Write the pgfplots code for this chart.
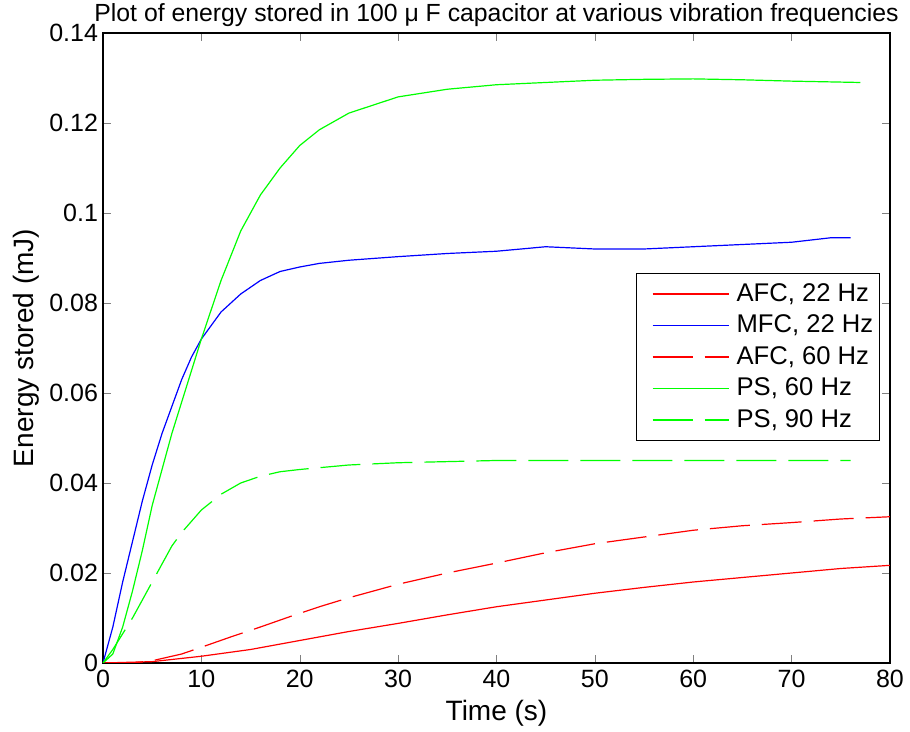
\documentclass[border=0pt]{standalone}
\usepackage{fontspec}
\setmainfont{Liberation Sans}
\usepackage{pgfplots}
\pgfplotsset{compat=1.18}
\begin{document}
\begin{tikzpicture}
\def\fs{\fontsize{12.5}{14}\selectfont}
\def\fl{\fontsize{14}{16}\selectfont}
\begin{axis}[
  scale only axis, width=393.5pt, height=315pt,
  xmin=0, xmax=80, ymin=0, ymax=0.14,
  xtick={0,10,...,80}, ytick={0,0.02,0.04,0.06,0.08,0.1,0.12,0.14},
  scaled y ticks=false,
  yticklabel style={/pgf/number format/fixed, /pgf/number format/precision=2, xshift=1pt},
  /pgf/number format/assume math mode=true,
  tick label style={font=\fs},
  tick align=inside, xtick pos=both, ytick pos=both, major tick length=4pt,
  axis line style={black, line width=0.6pt},
  title={Plot of energy stored in 100 μ F capacitor at various vibration frequencies},
  every axis title/.style={font=\fontsize{12.4}{14}\selectfont, at={(0.5,1.019)}, anchor=base},
  xlabel={Time (s)},
  xlabel style={font=\fl, at={(axis description cs:0.5,-0.0905)}, anchor=base},
  ylabel={Energy stored (mJ)},
  ylabel style={font=\fl, at={(axis description cs:-0.0889,0.5)}, anchor=base},
  legend style={at={(0.987,0.619)}, anchor=north east, font=\fontsize{12.8}{14}\selectfont, draw=black, line width=0.6pt, row sep=1.3pt, inner xsep=1pt, inner ysep=3pt},
  legend cell align=left,
  legend image code/.code={\path[draw=none] (0pt,0pt) -- (47pt,0pt); \draw[#1, line width=0.6pt] (7pt,0pt) -- (45pt,0pt);},
  every axis plot/.append style={line width=0.6pt},
]
% AFC, 22 Hz
\addplot[red] coordinates {(0,0)(5,0.0003)(10,0.0015)(15,0.003)(20,0.005)(25,0.007)(30,0.0088)(35,0.0107)(40,0.0125)(45,0.014)(50,0.0155)(55,0.0168)(60,0.018)(65,0.019)(70,0.020)(75,0.021)(80,0.0217)};
\addlegendentry{AFC, 22 Hz}
% MFC, 22 Hz
\addplot[blue] coordinates {(0,0)(1,0.008)(2,0.018)(3,0.027)(4,0.036)(5,0.044)(6,0.051)(7,0.057)(8,0.063)(9,0.068)(10,0.072)(12,0.078)(14,0.082)(16,0.085)(18,0.087)(20,0.088)(22,0.0888)(25,0.0895)(30,0.0903)(35,0.091)(40,0.0915)(45,0.0925)(50,0.092)(55,0.092)(60,0.0925)(65,0.093)(70,0.0935)(74,0.0945)(76,0.0945)};
\addlegendentry{MFC, 22 Hz}
% AFC, 60 Hz
\addplot[red, dash pattern=on 20pt off 6pt] coordinates {(0,0)(3,0)(5,0.0005)(8,0.002)(10,0.0035)(13,0.0058)(16,0.008)(19,0.0103)(22,0.0125)(25,0.0145)(30,0.0175)(35,0.020)(40,0.0222)(45,0.0245)(50,0.0265)(55,0.028)(60,0.0295)(65,0.0305)(70,0.0312)(75,0.032)(80,0.0325)};
\addlegendentry{AFC, 60 Hz}
% PS, 60 Hz
\addplot[green] coordinates {(0,0)(1,0.002)(2,0.008)(3,0.016)(4,0.025)(5,0.035)(6,0.043)(7,0.051)(8,0.058)(9,0.065)(10,0.072)(12,0.085)(14,0.096)(16,0.104)(18,0.110)(20,0.115)(22,0.1185)(25,0.1222)(30,0.1258)(35,0.1275)(40,0.1285)(45,0.129)(50,0.1295)(55,0.1297)(60,0.1298)(65,0.1296)(70,0.1293)(77,0.129)};
\addlegendentry{PS, 60 Hz}
% PS, 90 Hz
\addplot[green, dash pattern=on 20pt off 6pt] coordinates {(0,0)(1,0.003)(2,0.0065)(3,0.010)(4,0.014)(5,0.018)(6,0.022)(7,0.026)(8,0.029)(10,0.034)(12,0.0375)(14,0.040)(16,0.0415)(18,0.0425)(20,0.043)(25,0.044)(30,0.0445)(40,0.045)(50,0.045)(60,0.045)(70,0.045)(76,0.045)};
\addlegendentry{PS, 90 Hz}
\end{axis}
\pgfresetboundingbox
\path[use as bounding box] (-51.5pt,-34.5pt) rectangle (403.5pt,331.5pt);
\end{tikzpicture}
\end{document}
